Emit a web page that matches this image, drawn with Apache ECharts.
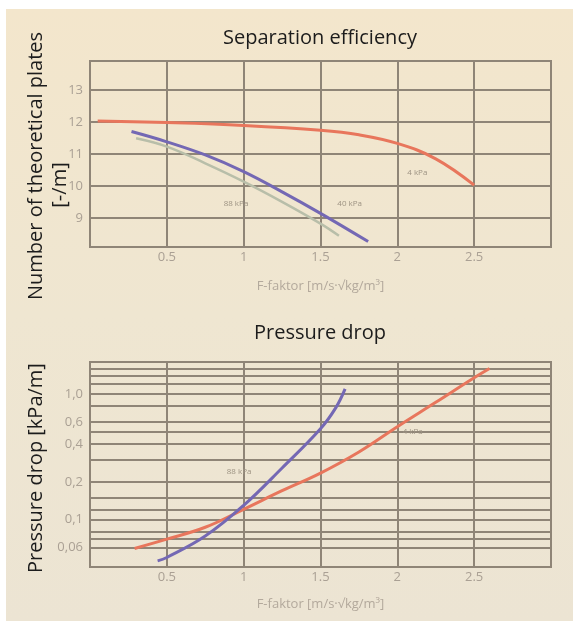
<!DOCTYPE html>
<html>
<head>
<meta charset="utf-8">
<script src="https://cdn.jsdelivr.net/npm/echarts@6/dist/echarts.min.js"></script>
<style>
  html, body { margin: 0; padding: 0; background: #ffffff; }
  #paper {
    position: absolute; left: 6px; top: 9px; width: 567px; height: 612px;
    background: linear-gradient(180deg, #f3e6cc 0%, #efe6d1 50%, #ece4d3 100%);
  }
  #main { position: absolute; left: 0; top: 0; width: 573px; height: 621px; }
</style>
</head>
<body>
<div id="paper"></div>
<div id="main"></div>
<script>
// ---- data ----
var xTicks = [0.5, 1, 1.5, 2, 2.5];
var topYTicks = [9, 10, 11, 12, 13];
// horizontal lines of the pressure drop grid, and the ones that carry a label
var dropGridVals = [1.6, 1.4, 1.2, 1.0, 0.8, 0.6, 0.5, 0.4, 0.3, 0.2, 0.15, 0.12, 0.1, 0.08, 0.07, 0.06];
var dropLabelVals = [1.0, 0.6, 0.4, 0.2, 0.1, 0.06];
var dropLabelText = ['1,0', '0,6', '0,4', '0,2', '0,1', '0,06'];

// separation efficiency [plates/m] vs F-factor
var sep4kPa  = [[0.05, 12.03], [0.5, 11.98], [1, 11.89], [1.5, 11.74], [1.75, 11.6], [2, 11.33], [2.25, 10.85], [2.5, 10.03]];
var sep40kPa = [[0.27, 11.70], [0.5, 11.38], [0.75, 10.97], [1, 10.45], [1.25, 9.82], [1.5, 9.15], [1.81, 8.27]];
var sep88kPa = [[0.30, 11.49], [0.5, 11.23], [0.75, 10.71], [1, 10.14], [1.25, 9.51], [1.5, 8.83], [1.62, 8.45]];

// pressure drop [kPa/m] vs F-factor
var drop4kPa  = [[0.29, 0.059], [0.5, 0.070], [0.75, 0.087], [1, 0.121], [1.25, 0.17], [1.5, 0.235], [1.75, 0.346], [2, 0.55], [2.25, 0.86], [2.5, 1.35], [2.6, 1.60]];
var drop88kPa = [[0.44, 0.047], [0.5, 0.050], [0.75, 0.074], [1, 0.13], [1.25, 0.258], [1.5, 0.53], [1.6, 0.78], [1.66, 1.10]];

// curve captions
var sepNotes  = [['4 kPa', 2.13, 10.43], ['88 kPa', 0.95, 9.46], ['40 kPa', 1.69, 9.46]];
var dropNotes = [['88 kPa', 0.97, 0.24], ['4 kPa', 2.1, 0.5]];

var gridC = '#8f8577';
var labelC = '#aaa094';
var redC = '#e8765c';
var blueC = '#7468b4';
var paleC = '#b8bea9';
var xName = 'F-faktor [m/s·√kg/m³]';
var font = 'Open Sans';

function hLines(vals, labelVals, labelTexts) {
  return vals.map(function (v) {
    var k = labelVals.indexOf(v);
    return {
      yAxis: v,
      label: { show: k >= 0, formatter: k >= 0 ? labelTexts[k] : '' }
    };
  });
}

function notes(list) {
  return list.map(function (n) {
    return { name: n[0], coord: [n[1], n[2]] };
  });
}

var markLineBase = {
  silent: true,
  symbol: ['none', 'none'],
  z: 1,
  lineStyle: { color: gridC, width: 2, type: 'solid', opacity: 1 },
  label: { position: 'start', distance: 7, color: labelC, fontSize: 13, fontFamily: font },
  emphasis: { disabled: true }
};

var markPointBase = {
  silent: true,
  symbol: 'circle',
  symbolSize: 1,
  itemStyle: { color: 'rgba(0,0,0,0)' },
  label: { show: true, position: 'inside', formatter: '{b}', color: '#9d9383', fontSize: 8, fontFamily: font }
};

function xAxisFor(i) {
  return {
    type: 'value', gridIndex: i, min: 0, max: 3, interval: 0.5,
    axisLine: { show: false }, axisTick: { show: false },
    splitLine: { show: true, lineStyle: { color: gridC, width: 2 } },
    axisLabel: {
      color: labelC, fontSize: 13, margin: 4, fontFamily: font,
      formatter: function (v) { return xTicks.indexOf(v) >= 0 ? String(v) : ''; }
    },
    name: xName, nameLocation: 'middle', nameGap: i === 0 ? 33 : 31,
    nameTextStyle: { color: '#b3a99c', fontSize: 13, fontFamily: font }
  };
}

var chart = echarts.init(document.getElementById('main'));

var option = {
  animation: false,
  textStyle: { fontFamily: font },
  title: [
    { text: 'Separation efficiency', left: 320, top: 28, textAlign: 'center', padding: 0,
      textStyle: { fontSize: 20, fontWeight: 'normal', color: '#1c1c1c', fontFamily: font } },
    { text: 'Pressure drop', left: 320, top: 323, textAlign: 'center', padding: 0,
      textStyle: { fontSize: 20, fontWeight: 'normal', color: '#1c1c1c', fontFamily: font } }
  ],
  graphic: [
    { type: 'text', x: 36, y: 166, rotation: Math.PI / 2,
      style: { text: 'Number of theoretical plates', font: '20px "Open Sans"', fill: '#1c1c1c', textAlign: 'center', textVerticalAlign: 'middle' } },
    { type: 'text', x: 60, y: 185, rotation: Math.PI / 2,
      style: { text: '[-/m]', font: '20px "Open Sans"', fill: '#1c1c1c', textAlign: 'center', textVerticalAlign: 'middle' } },
    { type: 'text', x: 36, y: 468, rotation: Math.PI / 2,
      style: { text: 'Pressure drop [kPa/m]', font: '20px "Open Sans"', fill: '#1c1c1c', textAlign: 'center', textVerticalAlign: 'middle' } }
  ],
  grid: [
    { left: 90, right: 22, top: 61, height: 186, show: true, borderColor: gridC, borderWidth: 2, backgroundColor: 'transparent' },
    { left: 90, right: 22, top: 362, height: 205, show: true, borderColor: gridC, borderWidth: 2, backgroundColor: 'transparent' }
  ],
  xAxis: [xAxisFor(0), xAxisFor(1)],
  yAxis: [
    { type: 'value', gridIndex: 0, min: 8.1, max: 13.9,
      axisLine: { show: false }, axisTick: { show: false }, axisLabel: { show: false }, splitLine: { show: false } },
    { type: 'log', logBase: 10, gridIndex: 1, min: 0.042, max: 1.8,
      axisLine: { show: false }, axisTick: { show: false }, axisLabel: { show: false }, splitLine: { show: false } }
  ],
  series: [
    { name: '4 kPa', type: 'line', xAxisIndex: 0, yAxisIndex: 0, data: sep4kPa, smooth: 0.4,
      showSymbol: false, z: 3, lineStyle: { color: redC, width: 3 },
      markLine: Object.assign({}, markLineBase, { data: hLines(topYTicks, topYTicks, topYTicks.map(String)) }),
      markPoint: Object.assign({}, markPointBase, { data: notes(sepNotes) }) },
    { name: '88 kPa', type: 'line', xAxisIndex: 0, yAxisIndex: 0, data: sep88kPa, smooth: 0.4,
      showSymbol: false, z: 3, lineStyle: { color: paleC, width: 2.5 } },
    { name: '40 kPa', type: 'line', xAxisIndex: 0, yAxisIndex: 0, data: sep40kPa, smooth: 0.4,
      showSymbol: false, z: 4, lineStyle: { color: blueC, width: 3 } },
    { name: '4 kPa', type: 'line', xAxisIndex: 1, yAxisIndex: 1, data: drop4kPa, smooth: 0.4,
      showSymbol: false, z: 3, lineStyle: { color: redC, width: 3 },
      markLine: Object.assign({}, markLineBase, { data: hLines(dropGridVals, dropLabelVals, dropLabelText) }),
      markPoint: Object.assign({}, markPointBase, { data: notes(dropNotes) }) },
    { name: '88 kPa', type: 'line', xAxisIndex: 1, yAxisIndex: 1, data: drop88kPa, smooth: 0.4,
      showSymbol: false, z: 4, lineStyle: { color: blueC, width: 3 } }
  ]
};

chart.setOption(option);
</script>
</body>
</html>
